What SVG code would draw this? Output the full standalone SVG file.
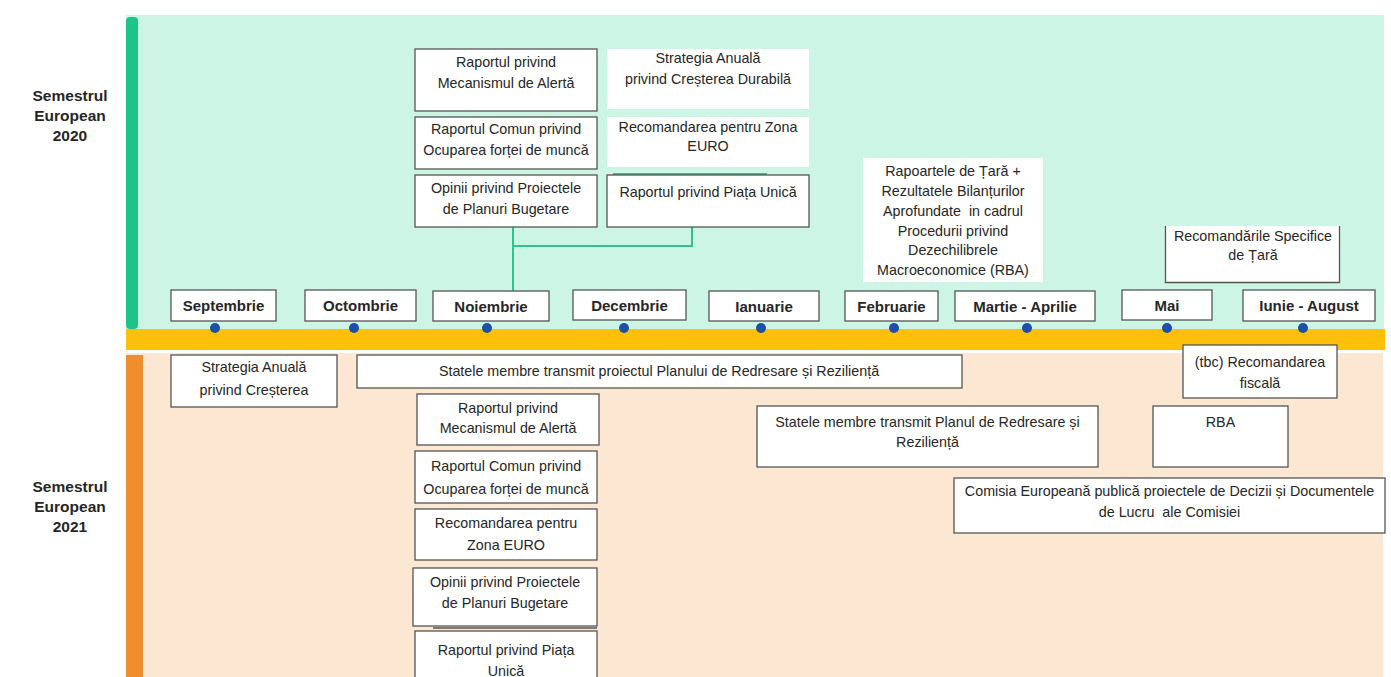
<svg xmlns="http://www.w3.org/2000/svg" width="1391" height="677" viewBox="0 0 1391 677">
<style>
.box{fill:#ffffff;stroke:#555;stroke-width:1.3}
.nb{fill:#ffffff;stroke:none}
.t{font-family:"Liberation Sans",Arial,sans-serif;font-size:14.3px;fill:#262626;text-anchor:middle}
.m{font-family:"Liberation Sans",Arial,sans-serif;font-size:15px;font-weight:bold;fill:#262626;text-anchor:middle}
.s{font-family:"Liberation Sans",Arial,sans-serif;font-size:15.5px;font-weight:bold;fill:#262626;text-anchor:middle}
.dot{fill:#1d4fa6}
.conn{fill:none;stroke:#33c28e;stroke-width:2}
</style>
<rect width="1391" height="677" fill="#ffffff"/>
<g id="panels">
<rect x="126" y="15" width="1258" height="314" fill="#cdf5e6"/>
<rect x="126" y="17" width="12" height="312" rx="4" fill="#1ec389"/>
<rect x="126" y="329" width="1259" height="21" fill="#fcbf0a"/>
<rect x="126" y="353" width="1257" height="324" fill="#fbe7d2"/>
<rect x="126" y="355" width="17" height="322" fill="#ef8e2c"/>
</g>
<g id="labels">
<text class="s" x="70" y="101">Semestrul</text>
<text class="s" x="70" y="121">European</text>
<text class="s" x="70" y="141">2020</text>
<text class="s" x="70" y="492">Semestrul</text>
<text class="s" x="70" y="512">European</text>
<text class="s" x="70" y="532">2021</text>
</g>
<g id="connectors">
<path class="conn" d="M513 227 V291 M513 246 H692 V227"/>
<path class="conn" d="M613 174 H767"/>
</g>
<g id="months">
<g id="m-sep"><rect class="box" x="171" y="290" width="105" height="31"/><text class="m" x="223.5" y="311">Septembrie</text><circle class="dot" cx="215" cy="328" r="5"/></g>
<g id="m-oct"><rect class="box" x="305" y="290" width="111" height="31"/><text class="m" x="360.5" y="311">Octombrie</text><circle class="dot" cx="354" cy="328" r="5"/></g>
<g id="m-nov"><rect class="box" x="433" y="291" width="116" height="30"/><text class="m" x="491" y="312">Noiembrie</text><circle class="dot" cx="487" cy="328" r="5"/></g>
<g id="m-dec"><rect class="box" x="573" y="290" width="113" height="30"/><text class="m" x="629.5" y="311">Decembrie</text><circle class="dot" cx="624" cy="328" r="5"/></g>
<g id="m-ian"><rect class="box" x="709" y="291" width="110" height="30"/><text class="m" x="764" y="312">Ianuarie</text><circle class="dot" cx="761" cy="328" r="5"/></g>
<g id="m-feb"><rect class="box" x="845" y="291" width="93" height="30"/><text class="m" x="891.5" y="312">Februarie</text><circle class="dot" cx="894" cy="328" r="5"/></g>
<g id="m-mar"><rect class="box" x="955" y="291" width="140" height="30"/><text class="m" x="1025" y="312">Martie - Aprilie</text><circle class="dot" cx="1027" cy="328" r="5"/></g>
<g id="m-mai"><rect class="box" x="1122" y="290" width="90" height="30"/><text class="m" x="1167" y="311">Mai</text><circle class="dot" cx="1167" cy="328" r="5"/></g>
<g id="m-iun"><rect class="box" x="1243" y="290" width="132" height="31"/><text class="m" x="1309" y="311">Iunie - August</text><circle class="dot" cx="1303" cy="328" r="5"/></g>
</g>
<g id="top-nodes">
<g id="t1"><rect class="box" x="415" y="49" width="182" height="62"/><text class="t" x="506" y="67">Raportul privind</text><text class="t" x="506" y="88">Mecanismul de Alertă</text></g>
<g id="t2"><rect class="nb" x="607" y="49" width="202" height="60"/><text class="t" x="708" y="63">Strategia Anuală</text><text class="t" x="708" y="84">privind Creșterea Durabilă</text></g>
<g id="t3"><rect class="box" x="415" y="117" width="182" height="52"/><text class="t" x="506" y="134">Raportul Comun privind</text><text class="t" x="506" y="155">Ocuparea forței de muncă</text></g>
<g id="t4"><rect class="nb" x="607" y="117" width="202" height="50"/><text class="t" x="708" y="132">Recomandarea pentru Zona</text><text class="t" x="708" y="151">EURO</text></g>
<g id="t5"><rect class="box" x="415" y="175" width="182" height="52"/><text class="t" x="506" y="193">Opinii privind Proiectele</text><text class="t" x="506" y="214">de Planuri Bugetare</text></g>
<g id="t6"><rect class="box" x="607" y="175" width="202" height="52"/><text class="t" x="708" y="197">Raportul privind Piața Unică</text></g>
<g id="t7"><rect class="nb" x="863" y="158" width="180" height="124"/><text class="t" x="953" y="176">Rapoartele de Țară +</text><text class="t" x="953" y="196">Rezultatele Bilanțurilor</text><text class="t" x="953" y="216" xml:space="preserve">Aprofundate  in cadrul</text><text class="t" x="953" y="236">Procedurii privind</text><text class="t" x="953" y="255">Dezechilibrele</text><text class="t" x="953" y="275">Macroeconomice (RBA)</text></g>
<g id="t8"><rect class="nb" x="1165" y="226" width="175" height="57"/><path d="M1165.5 226 V282.5 H1339.5 V226" fill="none" stroke="#555" stroke-width="1.3"/><text class="t" x="1253" y="241">Recomandările Specifice</text><text class="t" x="1253" y="260">de Țară</text></g>
</g>
<g id="bottom-nodes">
<g id="b1"><rect class="box" x="171" y="355" width="166" height="52"/><text class="t" x="254" y="372">Strategia Anuală</text><text class="t" x="254" y="395">privind Creșterea</text></g>
<g id="b2"><rect class="box" x="357" y="355" width="605" height="33"/><text class="t" x="659" y="376">Statele membre transmit proiectul Planului de Redresare și Reziliență</text></g>
<g id="b3"><rect class="box" x="417" y="394" width="182" height="51"/><text class="t" x="508" y="413">Raportul privind</text><text class="t" x="508" y="433">Mecanismul de Alertă</text></g>
<g id="b4"><rect class="box" x="415" y="451" width="182" height="52"/><text class="t" x="506" y="471">Raportul Comun privind</text><text class="t" x="506" y="494">Ocuparea forței de muncă</text></g>
<g id="b5"><rect class="box" x="415" y="509" width="182" height="51"/><text class="t" x="506" y="528">Recomandarea pentru</text><text class="t" x="506" y="550">Zona EURO</text></g>
<g id="b6"><rect class="box" x="413" y="568" width="184" height="58"/><text class="t" x="505" y="587">Opinii privind Proiectele</text><text class="t" x="505" y="608">de Planuri Bugetare</text><path d="M433 628 H597" stroke="#555" stroke-width="1.3"/></g>
<g id="b7"><rect class="box" x="415" y="631" width="182" height="50"/><text class="t" x="506" y="655">Raportul privind Piața</text><text class="t" x="506" y="676">Unică</text></g>
<g id="b8"><rect class="box" x="1183" y="345" width="154" height="53"/><text class="t" x="1260" y="367">(tbc) Recomandarea</text><text class="t" x="1260" y="388">fiscală</text></g>
<g id="b9"><rect class="box" x="757" y="406" width="341" height="61"/><text class="t" x="927.5" y="427">Statele membre transmit Planul de Redresare și</text><text class="t" x="927.5" y="447">Reziliență</text></g>
<g id="b10"><rect class="box" x="1153" y="406" width="135" height="61"/><text class="t" x="1220.5" y="427">RBA</text></g>
<g id="b11"><rect class="box" x="954" y="478" width="431" height="55"/><text class="t" x="1169.5" y="496">Comisia Europeană publică proiectele de Decizii și Documentele</text><text class="t" x="1169.5" y="517" xml:space="preserve">de Lucru  ale Comisiei</text></g>
</g>
</svg>
